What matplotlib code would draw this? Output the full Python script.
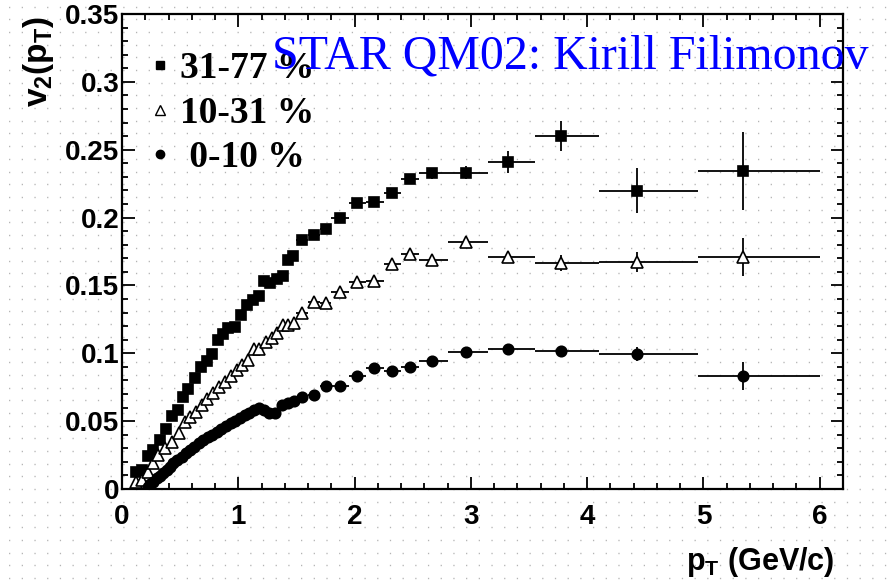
import numpy as np
import matplotlib
matplotlib.use('Agg')
import matplotlib.pyplot as plt
from matplotlib.lines import Line2D
from matplotlib.ticker import MultipleLocator, FuncFormatter

# ---------------- data ----------------
series_labels = ["31-77 %", "10-31 %", " 0-10 %"]

# narrow low-pT bins
pt_low_31_77 = [0.118, 0.175, 0.22, 0.27, 0.327, 0.379, 0.427, 0.485, 0.528, 0.571,
                0.628, 0.677, 0.729, 0.777, 0.829, 0.872, 0.915, 0.972, 1.021, 1.073,
                1.130, 1.182, 1.222, 1.274, 1.331, 1.383, 1.431, 1.474]
v2_low_31_77 = [0.0128, 0.014, 0.024, 0.029, 0.036, 0.044, 0.054, 0.058, 0.0676, 0.0737,
                0.082, 0.0897, 0.0946, 0.0993, 0.110, 0.114, 0.119, 0.1196, 0.128, 0.1356,
                0.139, 0.1425, 0.1535, 0.152, 0.1547, 0.157, 0.1687, 0.172]

pt_low_10_31 = [0.118, 0.169, 0.227, 0.27, 0.313, 0.37, 0.427, 0.49, 0.542, 0.585,
                0.637, 0.686, 0.734, 0.786, 0.835, 0.886, 0.935, 0.987, 1.035, 1.087,
                1.136, 1.182, 1.236, 1.288, 1.337, 1.383, 1.431, 1.483]
v2_low_10_31 = [0.0054, 0.0066, 0.0128, 0.019, 0.025, 0.030, 0.0349, 0.041, 0.0496, 0.0533,
                0.057, 0.0619, 0.066, 0.0705, 0.075, 0.079, 0.083, 0.0877, 0.0914, 0.095,
                0.103, 0.103, 0.1085, 0.111, 0.1147, 0.121, 0.121, 0.1226]

pt_low_0_10 = [0.22, 0.241, 0.27, 0.298, 0.327, 0.356, 0.385, 0.413, 0.442, 0.476,
               0.514, 0.551, 0.585, 0.622, 0.66, 0.70, 0.737, 0.777, 0.815, 0.855,
               0.895, 0.935, 0.975, 1.015, 1.056, 1.096, 1.136, 1.182, 1.222, 1.268,
               1.317, 1.374, 1.431, 1.48]
v2_low_0_10 = [0.0017, 0.0035, 0.0054, 0.0079, 0.0098, 0.012, 0.014, 0.0164, 0.019, 0.0214,
               0.0238, 0.0263, 0.0287, 0.031, 0.0337, 0.0361, 0.038, 0.040, 0.042, 0.044,
               0.0464, 0.0484, 0.0503, 0.0523, 0.0543, 0.0562, 0.0582, 0.0595, 0.0582, 0.0558,
               0.0558, 0.0619, 0.0631, 0.065]

low_bin_halfwidth = 0.025
low_v2_err = 0.0015

# wider high-pT bins (shared binning)
pt_high = [1.552, 1.652, 1.753, 1.876, 2.02, 2.17, 2.326, 2.473, 2.665, 2.957,
           3.319, 3.775, 4.425, 5.342]
pt_high_edges = [1.5, 1.6, 1.7, 1.8, 1.95, 2.1, 2.25, 2.4, 2.55, 2.8,
                 3.15, 3.55, 4.1, 4.95, 6.0]

v2_high_31_77 = [0.1835, 0.187, 0.1916, 0.1995, 0.2105, 0.2113, 0.2184, 0.2287, 0.2326, 0.2331,
                 0.2412, 0.2601, 0.2198, 0.2343]
err_high_31_77 = [0.003, 0.003, 0.003, 0.003, 0.003, 0.003, 0.003, 0.003, 0.004, 0.0047,
                  0.008, 0.011, 0.0166, 0.029]

v2_high_10_31 = [0.130, 0.138, 0.1368, 0.1454, 0.1528, 0.1533, 0.1656, 0.1732, 0.1688, 0.1823,
                 0.1707, 0.1663, 0.167, 0.1712]
err_high_10_31 = [0.002, 0.002, 0.002, 0.002, 0.002, 0.002, 0.002, 0.002, 0.003, 0.003,
                  0.004, 0.006, 0.0074, 0.014]

v2_high_0_10 = [0.068, 0.0693, 0.0761, 0.0761, 0.0833, 0.0889, 0.0872, 0.0901, 0.0943, 0.1007,
                0.1029, 0.1017, 0.0995, 0.0833]
err_high_0_10 = [0.0015, 0.0015, 0.0015, 0.0015, 0.0015, 0.0015, 0.0015, 0.0015, 0.002, 0.002,
                 0.002, 0.003, 0.005, 0.0104]

# ---------------- style ----------------
plt.rcParams['font.family'] = ['Liberation Sans', 'DejaVu Sans']
plt.rcParams['mathtext.fontset'] = 'custom'
plt.rcParams['mathtext.rm'] = 'Liberation Sans:bold'
plt.rcParams['mathtext.it'] = 'Liberation Sans:bold'
plt.rcParams['mathtext.bf'] = 'Liberation Sans:bold'

W, H = 888, 584
fig = plt.figure(figsize=(W / 100, H / 100), dpi=100)
fig.patch.set_facecolor('white')

# dotted slide background
for yy in np.arange(6.0 / H, 1.0, 12.7 / H):
    fig.add_artist(Line2D([0, 1], [yy, yy], transform=fig.transFigure,
                          linestyle=(3, (0.9, 8.24)), color='#b4b4b4', lw=1.0, zorder=-10))

ax = fig.add_axes([122 / W, 1 - 489 / H, (843 - 122) / W, (489 - 14) / H])
ax.set_facecolor('none')
ax.set_xlim(0, 6.2)
ax.set_ylim(0, 0.35)

def build(pt_low, v2_low, v2_high, err_high):
    pt = np.array(list(pt_low) + list(pt_high))
    v2 = np.array(list(v2_low) + list(v2_high))
    yerr = np.array([low_v2_err] * len(pt_low) + list(err_high))
    edges = np.array(pt_high_edges)
    xlo = [low_bin_halfwidth] * len(pt_low) + list(np.array(pt_high) - edges[:-1])
    xhi = [low_bin_halfwidth] * len(pt_low) + list(edges[1:] - np.array(pt_high))
    return pt, v2, np.array([xlo, xhi]), yerr

sets = [
    (pt_low_31_77, v2_low_31_77, v2_high_31_77, err_high_31_77, 's', 'black', 7.5),
    (pt_low_10_31, v2_low_10_31, v2_high_10_31, err_high_10_31, '^', 'white', 8.0),
    (pt_low_0_10, v2_low_0_10, v2_high_0_10, err_high_0_10, 'o', 'black', 7.5),
]
handles = []
for (pl, vl, vh, eh, mk, mfc, ms), lab in zip(sets, series_labels):
    pt, v2, xerr, yerr = build(pl, vl, vh, eh)
    ax.errorbar(pt, v2, xerr=xerr, yerr=yerr, fmt=mk, mfc=mfc, mec='black', mew=1.2,
                ms=ms, ecolor='black', elinewidth=1.3, capsize=0, zorder=3)
    handles.append(Line2D([], [], marker=mk, ls='none', mfc=mfc, mec='black', mew=1.0,
                          ms=6 if mk != '^' else 6.5))

leg = ax.legend(handles, series_labels, loc='upper left', bbox_to_anchor=(0.0189, 0.953),
                frameon=False, handlelength=0.5, handletextpad=0.283, labelspacing=0.25,
                borderaxespad=0.0,
                prop={'family': 'Liberation Serif', 'weight': 'bold', 'size': 27})

# axes styling
for sp in ax.spines.values():
    sp.set_linewidth(1.6)
ax.xaxis.set_major_locator(MultipleLocator(1))
ax.xaxis.set_minor_locator(MultipleLocator(0.2))
ax.yaxis.set_major_locator(MultipleLocator(0.05))
ax.yaxis.set_minor_locator(MultipleLocator(0.01))
ax.tick_params(which='both', direction='in', top=True, right=True, width=1.3)
ax.tick_params(which='major', length=9)
ax.tick_params(which='minor', length=4.5)
ax.tick_params(axis='x', which='major', pad=11)
ax.tick_params(axis='y', which='major', pad=2)
fmt = FuncFormatter(lambda v, p: f"{v:.2f}".rstrip('0').rstrip('.') if v != 0 else "0")
ax.yaxis.set_major_formatter(fmt)
for lbl in ax.get_xticklabels() + ax.get_yticklabels():
    lbl.set_fontsize(20)
    lbl.set_fontweight('bold')

fig.text(835 / W, 1 - 570 / H, r'p$_{\rm T}$ (GeV/c)', ha='right', va='baseline',
         fontsize=22, fontweight='bold')
fig.text(21 / W, 1 - 16 / H, r'v$_{\rm 2}$(p$_{\rm T}$)', ha='left', va='top',
         rotation=90, fontsize=24, fontweight='bold')

fig.text(272 / W, 1 - 68 / H, 'STAR QM02: Kirill Filimonov', ha='left', va='baseline',
         color='#0000ff', fontsize=34.5, family='Liberation Serif', zorder=5)

fig.savefig('out.png', dpi=100)
